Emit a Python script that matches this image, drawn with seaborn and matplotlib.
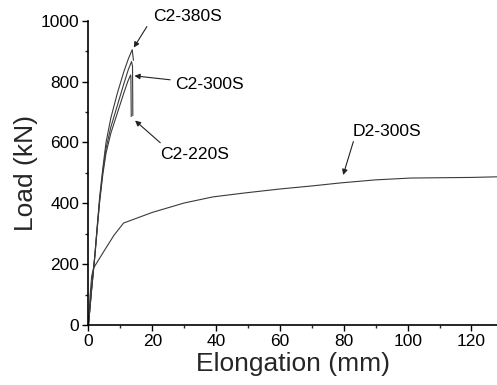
import numpy as np
import pandas as pd
import seaborn as sns
import matplotlib.pyplot as plt

# load-elongation curves: elongation (mm) / load (kN)
c2_380_x = [0, 1, 2, 2.7, 3.5, 4.5, 5.5, 7, 9, 11, 12.5, 13.7, 14.1]
c2_380_y = [0, 120, 230, 320, 420, 515, 600, 680, 760, 830, 875, 905, 870]
c2_300_x = [0, 1, 2, 2.7, 3.5, 4.5, 5.5, 7, 9, 11, 12.5, 13.5, 13.8, 13.9]
c2_300_y = [0, 120, 228, 315, 410, 505, 580, 650, 720, 790, 840, 866, 850, 688]
c2_220_x = [0, 1, 2, 2.7, 3.5, 4.5, 5.5, 7, 9, 11, 12.3, 13.2, 13.3, 13.4]
c2_220_y = [0, 118, 225, 310, 405, 495, 565, 630, 695, 760, 800, 822, 815, 685]
d2_300_x = [0, 0.5, 1.0, 1.6, 5, 8, 11, 20, 30, 39, 49, 60, 70, 79, 90, 101, 110, 120, 128]
d2_300_y = [0, 95, 160, 187, 245, 295, 335, 370, 401, 421, 434, 447, 457, 467, 477, 483, 484, 485, 487]

df = pd.concat([
    pd.DataFrame({"x": c2_380_x, "y": c2_380_y, "s": "C2-380S"}),
    pd.DataFrame({"x": c2_300_x, "y": c2_300_y, "s": "C2-300S"}),
    pd.DataFrame({"x": c2_220_x, "y": c2_220_y, "s": "C2-220S"}),
    pd.DataFrame({"x": d2_300_x, "y": d2_300_y, "s": "D2-300S"}),
])

sns.set_style("ticks")
plt.rcParams['font.family'] = ['Liberation Sans', 'DejaVu Sans']

fig = plt.figure(figsize=(4.97, 3.85), dpi=100)
ax = fig.add_axes([0.178, 0.156, 0.822, 0.79])
sns.lineplot(data=df, x="x", y="y", units="s", estimator=None, sort=False,
             color="#3a3a3a", linewidth=0.8, ax=ax)

ax.set_xlim(0, 128)
ax.set_ylim(0, 1000)
ax.set_xticks(np.arange(0, 121, 20))
ax.set_xticks(np.arange(10, 121, 20), minor=True)
ax.set_yticks(np.arange(0, 1001, 200))
ax.set_yticks(np.arange(100, 1000, 200), minor=True)
ax.tick_params(which="major", direction="out", length=4.5, width=1, labelsize=12.5,
               colors="black", pad=2)
ax.tick_params(which="minor", direction="out", length=2.5, width=1)
sns.despine(ax=ax)
for sp in ["left", "bottom"]:
    ax.spines[sp].set_linewidth(1.2)
    ax.spines[sp].set_color("black")

ax.set_xlabel("Elongation (mm)", fontsize=19, labelpad=2)
ax.set_ylabel("Load (kN)", fontsize=19, labelpad=2)

# labels and arrows
labels = ["C2-380S", "C2-300S", "C2-220S", "D2-300S"]
text_pos = [(20.2, 1014), (27.1, 789), (22.5, 559), (82.8, 636)]
arrow_from = [(18.3, 981), (25.6, 806), (22.5, 599), (83, 603)]
arrow_to = [(14.2, 912), (14.4, 819), (14.6, 672), (79.8, 493)]

ap = dict(arrowstyle="-|>", color="#222222", lw=0.8, mutation_scale=8,
          shrinkA=0, shrinkB=0)
for lab, tp, a0, a1 in zip(labels, text_pos, arrow_from, arrow_to):
    ax.text(tp[0], tp[1], lab, fontsize=12.6, va="center", ha="left", color="black")
    ax.annotate("", xy=a1, xytext=a0, arrowprops=ap)

fig.savefig("out.png", dpi=100, facecolor="white")
